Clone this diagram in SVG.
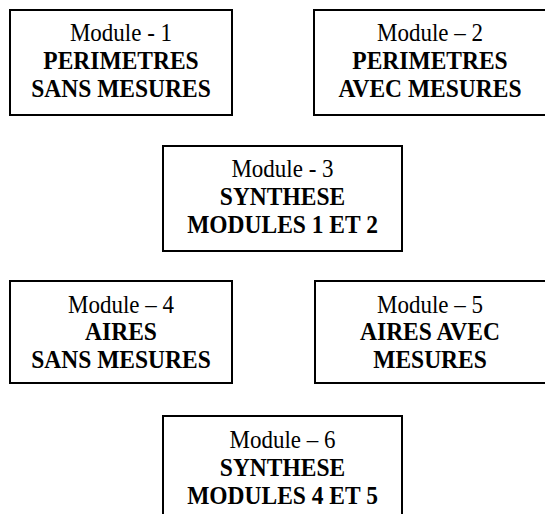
<svg xmlns="http://www.w3.org/2000/svg" width="545" height="514" viewBox="0 0 545 514">
<style>
.box{fill:#fff;stroke:#000;stroke-width:2}
text{font-family:"Liberation Serif","Times New Roman",serif;font-size:23px;fill:#000;text-anchor:middle}
.b{font-weight:bold;font-size:23.5px}
</style>
<rect width="545" height="514" fill="#fff"/>
<g id="connectors"></g>
<g id="m1">
<rect class="box" x="10" y="10" width="222" height="105"/>
<text transform="translate(121 41) scale(1 1.1)">Module - 1</text>
<text class="b" transform="translate(121 69) scale(1 1.1)">PERIMETRES</text>
<text class="b" transform="translate(121 97) scale(1 1.1)">SANS MESURES</text>
</g>
<g id="m2">
<rect class="box" x="314" y="10" width="240" height="105"/>
<text transform="translate(430 41) scale(1 1.1)">Module – 2</text>
<text class="b" transform="translate(430 69) scale(1 1.1)">PERIMETRES</text>
<text class="b" transform="translate(430 97) scale(1 1.1)">AVEC MESURES</text>
</g>
<g id="m3">
<rect class="box" x="163" y="146" width="239" height="105"/>
<text transform="translate(282.5 177) scale(1 1.1)">Module - 3</text>
<text class="b" transform="translate(282.5 205) scale(1 1.1)">SYNTHESE</text>
<text class="b" transform="translate(282.5 233) scale(1 1.1)">MODULES 1 ET 2</text>
</g>
<g id="m4">
<rect class="box" x="10" y="281" width="222" height="102"/>
<text transform="translate(121 313) scale(1 1.1)">Module – 4</text>
<text class="b" transform="translate(121 340) scale(1 1.1)">AIRES</text>
<text class="b" transform="translate(121 368) scale(1 1.1)">SANS MESURES</text>
</g>
<g id="m5">
<rect class="box" x="315" y="281" width="240" height="102"/>
<text transform="translate(430 313) scale(1 1.1)">Module – 5</text>
<text class="b" transform="translate(430 340) scale(1 1.1)">AIRES AVEC</text>
<text class="b" transform="translate(430 368) scale(1 1.1)">MESURES</text>
</g>
<g id="m6">
<rect class="box" x="163" y="416" width="239" height="110"/>
<text transform="translate(282.5 448) scale(1 1.1)">Module – 6</text>
<text class="b" transform="translate(282.5 476) scale(1 1.1)">SYNTHESE</text>
<text class="b" transform="translate(282.5 504) scale(1 1.1)">MODULES 4 ET 5</text>
</g>
</svg>
